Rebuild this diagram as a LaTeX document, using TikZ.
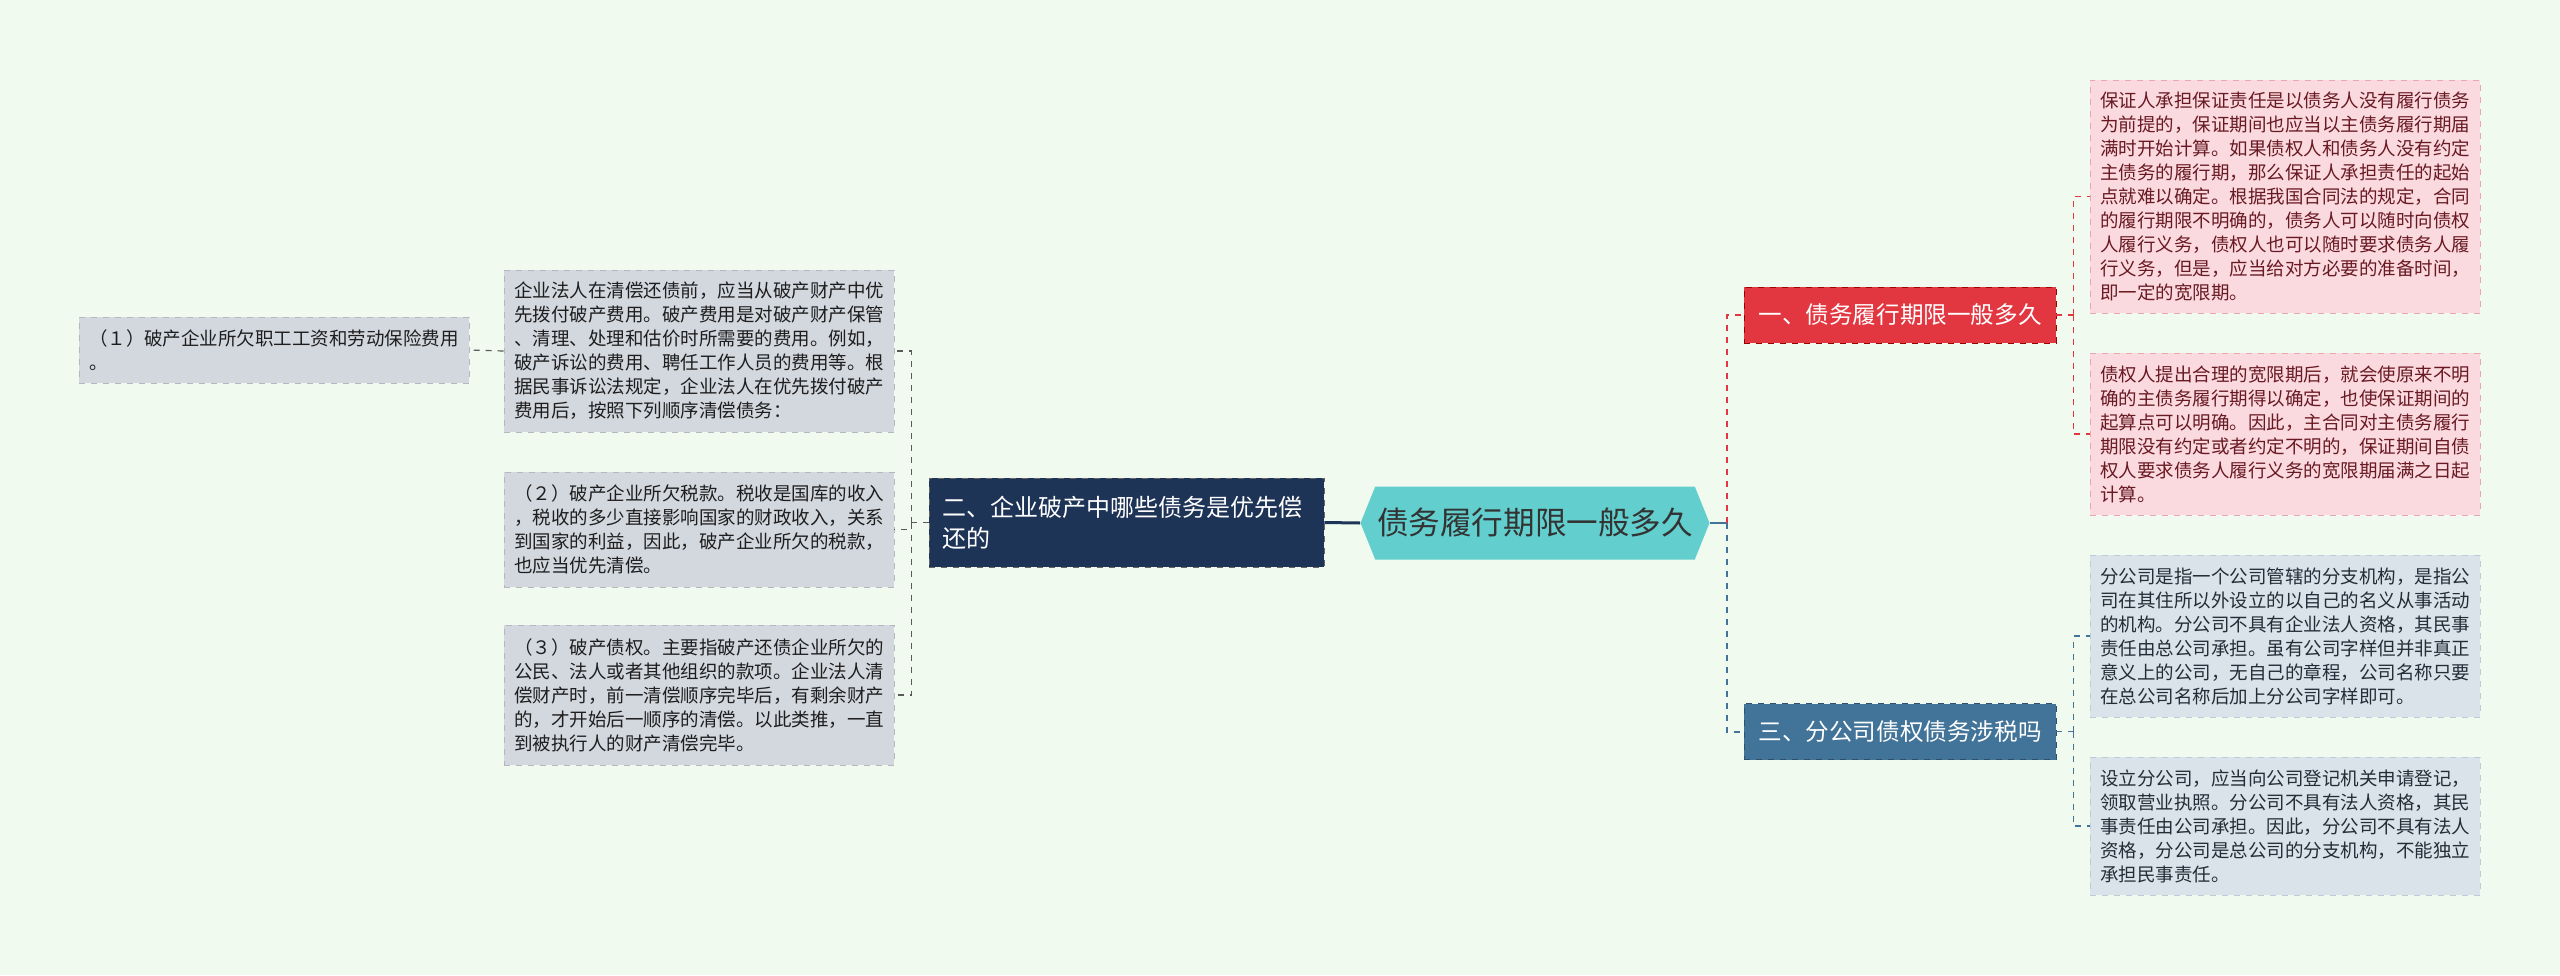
\documentclass[tikz,border=0pt]{standalone}
\usepackage{fontspec}
\setmainfont{Noto Sans CJK SC}
\usetikzlibrary{shapes.symbols}
\definecolor{bgcol}{RGB}{240,250,238}
\definecolor{pinkfill}{RGB}{250,218,222}
\definecolor{pinkdraw}{RGB}{232,168,176}
\definecolor{pinktext}{RGB}{105,25,35}
\definecolor{bluefill}{RGB}{218,227,234}
\definecolor{bluedraw}{RGB}{188,203,216}
\definecolor{bluetext}{RGB}{35,45,55}
\definecolor{grayfill}{RGB}{211,215,222}
\definecolor{graydraw}{RGB}{178,183,193}
\definecolor{graytext}{RGB}{30,30,30}
\definecolor{redmain}{RGB}{226,55,65}
\definecolor{bluemain}{RGB}{66,115,152}
\definecolor{navy}{RGB}{30,52,86}
\definecolor{teal}{RGB}{98,206,206}
\begin{document}
\begin{tikzpicture}[x=0.5pt,y=-0.5pt,
        leaf/.style={draw,dashed,align=left,text width=185pt,inner xsep=5pt,
          font=\fontsize{9.25pt}{12pt}\selectfont},
        pinkleaf/.style={leaf,fill=pinkfill,draw=pinkdraw,text=pinktext},
        blueleaf/.style={leaf,fill=bluefill,draw=bluedraw,text=bluetext},
        grayleaf/.style={leaf,fill=grayfill,draw=graydraw,text=graytext},
        branch/.style={draw,dashed,text=white,minimum width=156pt,minimum height=28pt,
          font=\fontsize{11.8pt}{14pt}\selectfont},
        redline/.style={draw=redmain,dashed,line width=1pt},
        blueline/.style={draw=bluemain,dashed,line width=1pt},
        grayline/.style={draw=black!65,dashed,line width=0.6pt}]
        \fill[bgcol] (0,0) rectangle (2560,975);
        \node[signal,signal to=west and east,signal pointer angle=136,fill=teal,
          minimum width=174.5pt,minimum height=36.5pt,inner sep=0pt,text=black!80,
          font=\fontsize{15.8pt}{18pt}\selectfont] at (1535,523) (root) {债务履行期限一般多久};
        \node[draw=black!60,dashed,fill=navy,text=white,align=left,text width=184pt,inner xsep=6.75pt,
          minimum height=44.5pt,font=\fontsize{12pt}{15.5pt}\selectfont] at (1126.5,522.5) (two)
          {二、企业破产中哪些债务是优先偿\\还的};
        \node[branch,fill=redmain,draw=red!60!black] at (1900,315) (one) {一、债务履行期限一般多久};
        \node[branch,fill=bluemain,draw=bluemain!70!black] at (1900,731.5) (three) {三、分公司债权债务涉税吗};
        % right side leaves
        \node[pinkleaf,minimum height=116.5pt] at (2285,196.5) (r1) {保证人承担保证责任是以债务人没有履行债务\\为前提的，保证期间也应当以主债务履行期届\\满时开始计算。如果债权人和债务人没有约定\\主债务的履行期，那么保证人承担责任的起始\\点就难以确定。根据我国合同法的规定，合同\\的履行期限不明确的，债务人可以随时向债权\\人履行义务，债权人也可以随时要求债务人履\\行义务，但是，应当给对方必要的准备时间，\\即一定的宽限期。};
        \node[pinkleaf,minimum height=81pt] at (2285,434) (r2) {债权人提出合理的宽限期后，就会使原来不明\\确的主债务履行期得以确定，也使保证期间的\\起算点可以明确。因此，主合同对主债务履行\\期限没有约定或者约定不明的，保证期间自债\\权人要求债务人履行义务的宽限期届满之日起\\计算。};
        \node[blueleaf,minimum height=81pt] at (2285,636) (r3) {分公司是指一个公司管辖的分支机构，是指公\\司在其住所以外设立的以自己的名义从事活动\\的机构。分公司不具有企业法人资格，其民事\\责任由总公司承担。虽有公司字样但并非真正\\意义上的公司，无自己的章程，公司名称只要\\在总公司名称后加上分公司字样即可。};
        \node[blueleaf,minimum height=69pt] at (2285,826) (r4) {设立分公司，应当向公司登记机关申请登记，\\领取营业执照。分公司不具有法人资格，其民\\事责任由公司承担。因此，分公司不具有法人\\资格，分公司是总公司的分支机构，不能独立\\承担民事责任。};
        % left side leaves
        \node[grayleaf,minimum height=81pt] at (699,351) (la) {企业法人在清偿还债前，应当从破产财产中优\\先拨付破产费用。破产费用是对破产财产保管\\、清理、处理和估价时所需要的费用。例如，\\破产诉讼的费用、聘任工作人员的费用等。根\\据民事诉讼法规定，企业法人在优先拨付破产\\费用后，按照下列顺序清偿债务：};
        \node[grayleaf,minimum height=57.5pt] at (699,529.5) (lb) {（２）破产企业所欠税款。税收是国库的收入\\，税收的多少直接影响国家的财政收入，关系\\到国家的利益，因此，破产企业所欠的税款，\\也应当优先清偿。};
        \node[grayleaf,minimum height=70pt] at (699,695) (lc) {（３）破产债权。主要指破产还债企业所欠的\\公民、法人或者其他组织的款项。企业法人清\\偿财产时，前一清偿顺序完毕后，有剩余财产\\的，才开始后一顺序的清偿。以此类推，一直\\到被执行人的财产清偿完毕。};
        \node[grayleaf,minimum height=33pt] at (274,350) (ld) {（１）破产企业所欠职工工资和劳动保险费用\\。};
        % connectors
        \draw[navy,line width=1.5pt] (two.east) -- (root.west);
        \draw[bluemain,line width=1.2pt] (root.east) -- ++(17,0) coordinate (rj);
        \draw[redline] (rj) |- (one.west);
        \draw[blueline] (rj) |- (three.west);
        \draw[redline,line width=0.6pt] (one.east) -- ++(17,0) coordinate (oj);
        \draw[redline,line width=0.6pt] (oj) |- (r1.west);
        \draw[redline,line width=0.6pt] (oj) |- (r2.west);
        \draw[blueline,line width=0.6pt] (three.east) -- ++(17,0) coordinate (tj);
        \draw[blueline,line width=0.6pt] (tj) |- (r3.west);
        \draw[blueline,line width=0.6pt] (tj) |- (r4.west);
        \draw[grayline] (two.west) -- ++(-17,0) coordinate (wj);
        \draw[grayline] (wj) |- (la.east);
        \draw[grayline] (wj) |- (lb.east);
        \draw[grayline] (wj) |- (lc.east);
        \draw[grayline] (la.west) -- (ld.east);
      \end{tikzpicture}
\end{document}
